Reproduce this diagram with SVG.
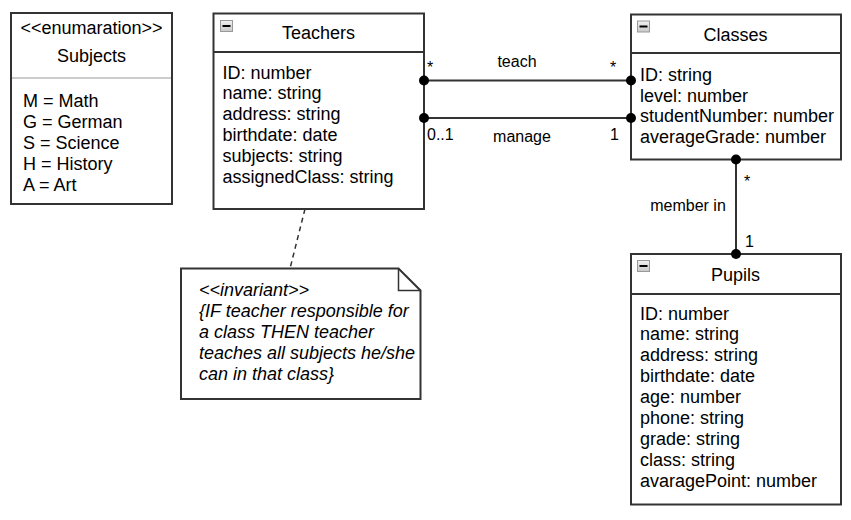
<svg xmlns="http://www.w3.org/2000/svg" width="851" height="520" viewBox="0 0 851 520">
<style>
.box{fill:#fff;stroke:#333;stroke-width:2}
.sep{stroke:#333;stroke-width:2}
.t{font-family:"Liberation Sans",Arial,sans-serif;font-size:18px;fill:#000}
.c{text-anchor:middle}
.lbl{font-family:"Liberation Sans",Arial,sans-serif;font-size:16px;fill:#000}
.conn{stroke:#333;stroke-width:2;fill:none}
.dot{fill:#000}
.it{font-style:italic}
</style>
<defs>
<linearGradient id="ig" x1="0" y1="0" x2="0" y2="1"><stop offset="0" stop-color="#f2f2f2"/><stop offset="1" stop-color="#c8c8c8"/></linearGradient>
<g id="minus"><rect x="0.5" y="0.5" width="12" height="11" fill="url(#ig)" stroke="#999"/><line x1="2.5" y1="6" x2="10.5" y2="6" stroke="#000" stroke-width="2"/></g>
</defs>
<rect width="851" height="520" fill="#fff"/>

<g id="subjects">
<rect class="box" x="11" y="13" width="161" height="191"/>
<line x1="12" y1="78" x2="171" y2="78" stroke="#bbb" stroke-width="1.5"/>
<text class="t c" x="91.5" y="33.5">&lt;&lt;enumaration&gt;&gt;</text>
<text class="t c" x="91.5" y="62">Subjects</text>
<text class="t" x="23" y="106.5">M = Math</text>
<text class="t" x="23" y="127.5">G = German</text>
<text class="t" x="23" y="148.5">S = Science</text>
<text class="t" x="23" y="169.5">H = History</text>
<text class="t" x="23" y="190.5">A = Art</text>
</g>

<g id="teachers">
<rect class="box" x="213.5" y="13.5" width="210.5" height="195.5"/>
<line class="sep" x1="213.5" y1="52" x2="424" y2="52"/>
<use href="#minus" x="220" y="20"/>
<text class="t c" x="318.5" y="39">Teachers</text>
<text class="t" x="222.5" y="78.5">ID: number</text>
<text class="t" x="222.5" y="99.4">name: string</text>
<text class="t" x="222.5" y="120.3">address: string</text>
<text class="t" x="222.5" y="141.2">birthdate: date</text>
<text class="t" x="222.5" y="162.1">subjects: string</text>
<text class="t" x="222.5" y="183">assignedClass: string</text>
</g>

<g id="classes">
<rect class="box" x="631" y="14.5" width="210" height="145"/>
<line class="sep" x1="631" y1="53" x2="841" y2="53"/>
<use href="#minus" x="637" y="20.5"/>
<text class="t c" x="735.5" y="40.5">Classes</text>
<text class="t" x="640" y="81">ID: string</text>
<text class="t" x="640" y="101.5">level: number</text>
<text class="t" x="640" y="122">studentNumber: number</text>
<text class="t" x="640" y="142.5">averageGrade: number</text>
</g>

<g id="pupils">
<rect class="box" x="631" y="254" width="210" height="250.5"/>
<line class="sep" x1="631" y1="294" x2="841" y2="294"/>
<use href="#minus" x="637" y="260"/>
<text class="t c" x="735.5" y="281">Pupils</text>
<text class="t" x="640" y="319.5">ID: number</text>
<text class="t" x="640" y="340.4">name: string</text>
<text class="t" x="640" y="361.3">address: string</text>
<text class="t" x="640" y="382.2">birthdate: date</text>
<text class="t" x="640" y="403.1">age: number</text>
<text class="t" x="640" y="424">phone: string</text>
<text class="t" x="640" y="444.9">grade: string</text>
<text class="t" x="640" y="465.8">class: string</text>
<text class="t" x="640" y="486.7">avaragePoint: number</text>
</g>

<g id="invariant-note">
<path class="box" d="M181,268.5 H398.5 L420.5,290.5 V399 H181 Z"/>
<path d="M398.5,268.5 V290.5 H420.5" fill="none" stroke="#333" stroke-width="1.5"/>
<text class="t it" x="199" y="295.5">&lt;&lt;invariant&gt;&gt;</text>
<text class="t it" x="199" y="316.7">{IF teacher responsible for</text>
<text class="t it" x="199" y="337.9">a class THEN teacher</text>
<text class="t it" x="199" y="359.1">teaches all subjects he/she</text>
<text class="t it" x="199" y="380.3">can in that class}</text>
</g>

<g id="connectors">
<line class="conn" x1="424" y1="80.5" x2="631" y2="80.5"/>
<circle class="dot" cx="424" cy="80.5" r="5"/>
<circle class="dot" cx="631" cy="80.5" r="5"/>
<text class="lbl" x="427" y="73">*</text>
<text class="lbl c" x="517" y="67">teach</text>
<text class="lbl" x="610" y="73">*</text>

<line class="conn" x1="424" y1="118" x2="631" y2="118"/>
<circle class="dot" cx="424" cy="118" r="5"/>
<circle class="dot" cx="631" cy="118" r="5"/>
<text class="lbl" x="427" y="140">0..1</text>
<text class="lbl c" x="522" y="142">manage</text>
<text class="lbl" x="610" y="140">1</text>

<line class="conn" x1="736" y1="159.5" x2="736" y2="254"/>
<circle class="dot" cx="736" cy="159.5" r="5"/>
<circle class="dot" cx="736" cy="254" r="5"/>
<text class="lbl" x="744" y="186.5">*</text>
<text class="lbl c" x="688" y="211">member in</text>
<text class="lbl" x="745" y="247">1</text>

<line x1="305" y1="209" x2="290" y2="268.5" stroke="#333" stroke-width="1.5" stroke-dasharray="5,4"/>
</g>
</svg>
